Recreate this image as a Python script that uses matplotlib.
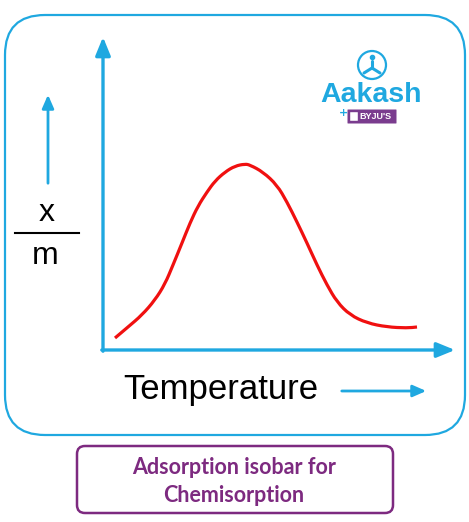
import matplotlib.pyplot as plt
from matplotlib.patches import FancyBboxPatch, Circle, PathPatch
from matplotlib.path import Path

# x/m vs temperature for chemisorption (arbitrary units)
temperature = [12, 25, 39, 52, 62, 70, 79, 87, 95, 104, 112, 122, 132, 142,
               147, 160, 174, 184, 194, 204, 214, 224, 234, 247, 264, 284,
               304, 314]
x_over_m = [12, 23, 35, 50, 66, 85, 107, 127, 144, 158, 169, 178, 184, 186,
            185, 178, 165, 148, 128, 107, 85, 65, 48, 35, 27, 23, 22, 23]

BLUE = "#1fa8e0"
RED = "#f01010"
PURPLE = "#7d2a80"

W, H = 469, 522
fig = plt.figure(figsize=(W / 100, H / 100), dpi=100)

# background layer in pixel coordinates for the frame, labels and logo
bg = fig.add_axes([0, 0, 1, 1])
bg.set_xlim(0, W)
bg.set_ylim(H, 0)
bg.axis("off")

bg.add_patch(FancyBboxPatch((5 + 40, 15 + 40), 460 - 80, 420 - 80,
                            boxstyle="round,pad=40", fc="none", ec=BLUE, lw=1.6))
bg.add_patch(FancyBboxPatch((77 + 8, 446 + 8), 316 - 16, 67 - 16,
                            boxstyle="round,pad=8", fc="none", ec=PURPLE, lw=1.8))
bg.text(234, 467, "Adsorption isobar for", ha="center", va="center",
        fontsize=15.5, fontweight="bold", family="Lato", color=PURPLE)
bg.text(234, 495, "Chemisorption", ha="center", va="center",
        fontsize=15.5, fontweight="bold", family="Lato", color=PURPLE)

# y label: arrow, x / m
bg.annotate("", xy=(48, 92), xytext=(48, 186),
            arrowprops=dict(arrowstyle="-|>,head_width=0.35,head_length=0.8",
                            color=BLUE, lw=2))
bg.text(47, 213, "x", ha="center", va="center", fontsize=23,
        family="Liberation Sans", color="black")
bg.plot([15, 79], [233, 233], color="black", lw=1.5)
bg.text(45, 256, "m", ha="center", va="center", fontsize=23,
        family="Liberation Sans", color="black")

# x label
bg.text(221, 390, "Temperature", ha="center", va="center", fontsize=25,
        family="Liberation Sans", color="black")
bg.annotate("", xy=(429, 391), xytext=(339, 391),
            arrowprops=dict(arrowstyle="-|>,head_width=0.35,head_length=0.8",
                            color=BLUE, lw=2))

# logo
bg.add_patch(Circle((372, 65), 14, fc="none", ec=BLUE, lw=1.6))
bg.plot([372, 372], [61, 68], color=BLUE, lw=2.2, solid_capstyle="round")
bg.plot([364, 372, 380], [73, 68, 73], color=BLUE, lw=2.2, solid_capstyle="round")
bg.plot([372], [57], marker="o", ms=3, color=BLUE)
bg.text(371, 95, "Aakash", ha="center", va="center", fontsize=20.5,
        fontweight="heavy", family="Liberation Sans", color=BLUE)
bg.add_patch(FancyBboxPatch((348, 110), 48, 13, boxstyle="round,pad=0.5",
                            fc="#7a3c8e", ec="none"))
bg.text(375, 116.8, "BYJU'S", ha="center", va="center", fontsize=6.5,
        fontweight="bold", family="Liberation Sans", color="white")
bg.add_patch(FancyBboxPatch((350.5, 112.5), 7, 8, boxstyle="round,pad=0.3",
                            fc="white", ec="none"))
bg.text(343, 113, "+", ha="center", va="center", fontsize=8,
        fontweight="bold", color=BLUE)

# data axes: 1 unit = 1 pixel, origin at the axis corner
ax = fig.add_axes([103 / W, (H - 350) / H, 360 / W, 320 / H])
ax.set_xlim(0, 360)
ax.set_ylim(0, 320)
ax.axis("off")
ax.patch.set_alpha(0)

# smooth the read points with quadratic segments through the midpoints
pts = list(zip(temperature, x_over_m))
verts = [pts[0]]
codes = [Path.MOVETO]
for i in range(1, len(pts) - 1):
    mid = ((pts[i][0] + pts[i + 1][0]) / 2, (pts[i][1] + pts[i + 1][1]) / 2)
    verts += [pts[i], mid]
    codes += [Path.CURVE3, Path.CURVE3]
verts.append(pts[-1])
codes.append(Path.LINETO)
ax.add_patch(PathPatch(Path(verts, codes), fc="none", ec=RED, lw=2.3,
                       capstyle="butt"))

arrow = dict(arrowstyle="-|>,head_width=0.45,head_length=1.1", color=BLUE,
             lw=2.4, shrinkA=0, shrinkB=0)
ax.annotate("", xy=(352, 0), xytext=(-1.2, 0), arrowprops=arrow,
            annotation_clip=False)
ax.annotate("", xy=(0, 313), xytext=(0, -1.2), arrowprops=arrow,
            annotation_clip=False)

fig.savefig("out.png", dpi=100)
